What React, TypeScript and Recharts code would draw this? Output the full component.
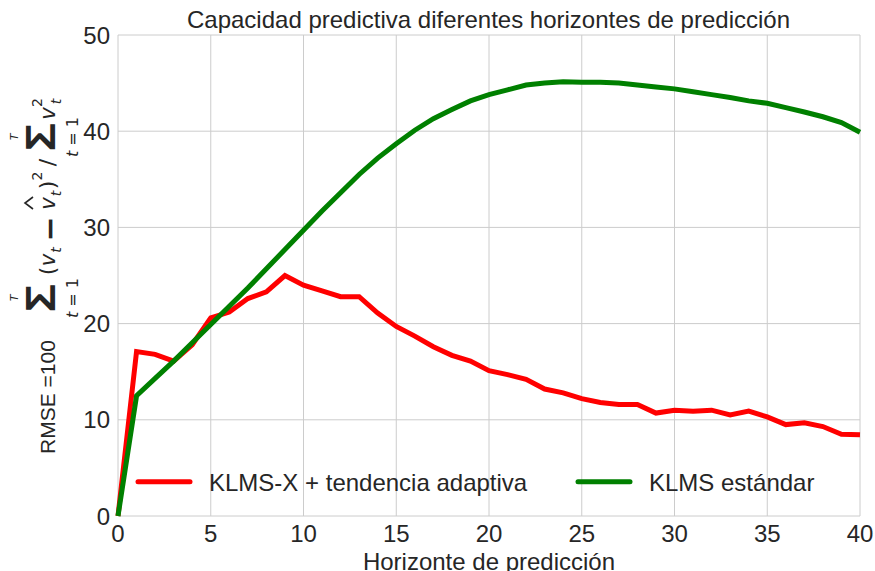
import { LineChart, Line, XAxis, YAxis, CartesianGrid, Legend } from 'recharts'

const SANS = '"Liberation Sans", Arial, sans-serif'
const MATH = '"DejaVu Sans", sans-serif'
const INK = '#262626'

const horizon = [0, 1, 2, 3, 4, 5, 6, 7, 8, 9, 10, 11, 12, 13, 14, 15, 16, 17, 18, 19, 20,
  21, 22, 23, 24, 25, 26, 27, 28, 29, 30, 31, 32, 33, 34, 35, 36, 37, 38, 39, 40]

// KLMS-X + adaptive trend
const klmsX = [0, 17.1, 16.8, 16.1, 17.8, 20.6, 21.2, 22.6, 23.3, 25.0,
  24.0, 23.4, 22.8, 22.8, 21.1, 19.7, 18.7, 17.6, 16.7, 16.1,
  15.1, 14.7, 14.2, 13.2, 12.8, 12.2, 11.8, 11.6, 11.6, 10.7,
  11.0, 10.9, 11.0, 10.5, 10.9, 10.3, 9.5, 9.7, 9.3, 8.5, 8.45]

// plain KLMS
const klmsStd = [0, 12.5, 14.3, 16.1, 18.0, 19.9, 21.8, 23.7, 25.7, 27.7,
  29.7, 31.7, 33.6, 35.5, 37.2, 38.7, 40.1, 41.3, 42.25, 43.15,
  43.8, 44.3, 44.8, 45.0, 45.15, 45.1, 45.1, 45.0, 44.8, 44.6,
  44.4, 44.1, 43.8, 43.5, 43.15, 42.9, 42.45, 42.0, 41.5, 40.9, 39.9]

const xTicks = [0, 5, 10, 15, 20, 25, 30, 35, 40]
const yTicks = [0, 10, 20, 30, 40, 50]

const seriesNames = ['KLMS-X + tendencia adaptiva', 'KLMS estándar']

const data = horizon.map((h, i) => ({ h, klmsX: klmsX[i], klmsStd: klmsStd[i] }))

// big sigma with stacked limits, drawn in the rotated label frame
function Sum({ cx }: { cx: number }) {
  return (
    <g>
      <text x={cx} y={0} fontSize={43} fontFamily={SANS} fontWeight="bold" textAnchor="middle"
        transform={`translate(${cx},0) scale(1.1,1) translate(${-cx},0)`}>Σ</text>
      <text x={cx} y={-37} fontSize={11} fontFamily={MATH} fontStyle="italic" textAnchor="middle">T</text>
      <text x={cx} y={23} fontSize={16} fontFamily={MATH} textAnchor="middle">
        <tspan fontStyle="italic">t</tspan> = 1
      </text>
    </g>
  )
}

// (v_t − v̂_t)² / ... v_t²
const glyphs = [
  { t: '(', x: -271, y: 0, s: 22 },
  { t: 'v', x: -260, y: 0, s: 21, i: true },
  { t: 't', x: -250, y: 6, s: 14, i: true },
  { t: '−', x: -229, y: 5, s: 30, b: true },
  { t: 'v', x: -203.5, y: 0, s: 21, i: true },
  { t: 't', x: -193.5, y: 6, s: 14, i: true },
  { t: ')', x: -185, y: 0, s: 22 },
  { t: '2', x: -176, y: -13, s: 14 },
  { t: '/', x: -162.5, y: 0, s: 22 },
  { t: 'v', x: -113.5, y: 0, s: 21, i: true },
  { t: '2', x: -102.5, y: -13, s: 14 },
  { t: 't', x: -101.5, y: 6, s: 14, i: true },
]

function YLabel() {
  return (
    <g transform="translate(55,0) rotate(-90)" fill={INK}>
      <text x={-454} y={0} fontSize={21} fontFamily={SANS}>RMSE =100</text>
      <Sum cx={-298} />
      <Sum cx={-137} />
      {glyphs.map((g, k) => (
        <text key={k} x={g.x} y={g.y} fontSize={g.s} fontFamily={MATH}
          fontStyle={g.i ? 'italic' : 'normal'} fontWeight={g.b ? 'bold' : 'normal'}
          textAnchor="middle">{g.t}</text>
      ))}
      {/* hat over the estimate */}
      <path d="M-209,-22 L-203,-30 L-197,-22" fill="none" stroke={INK} strokeWidth={1.6} />
    </g>
  )
}

function XLabel() {
  return (
    <text x={489} y={570} fontSize={24} fontFamily={SANS} fill={INK} textAnchor="middle">
      Horizonte de predicción
    </text>
  )
}

function LegendBox() {
  const items = [
    { name: seriesNames[0], color: '#ff0000', x: 138 },
    { name: seriesNames[1], color: '#008000', x: 578 },
  ]
  return (
    <svg width={875} height={50}>
      {items.map(it => (
        <g key={it.name}>
          <line x1={it.x} x2={it.x + 52} y1={26.7} y2={26.7} stroke={it.color} strokeWidth={5} strokeLinecap="round" />
          <text x={it.x + 71} y={35.5} fontSize={24} fontFamily={SANS} fill={INK}>{it.name}</text>
        </g>
      ))}
    </svg>
  )
}

export default function App() {
  return (
    <div style={{ position: 'fixed', left: 0, top: 0, width: 875, height: 571, background: '#fff' }}>
      <LineChart width={875} height={571} data={data} margin={{ top: 35, right: 15, bottom: 5, left: 58 }}>
        <CartesianGrid stroke="#cccccc" strokeWidth={1} />
        <XAxis dataKey="h" type="number" domain={[0, 40]} ticks={xTicks} height={50}
          axisLine={false} tickLine={false} tickSize={6} tickMargin={3}
          tick={{ fontSize: 24, fill: INK, fontFamily: SANS }}
          label={{ content: () => <XLabel /> }} />
        <YAxis type="number" domain={[0, 50]} ticks={yTicks} width={60}
          axisLine={false} tickLine={false} tickSize={6} tickMargin={2}
          tick={{ fontSize: 24, fill: INK, fontFamily: SANS }}
          label={{ content: () => <YLabel /> }} />
        <Legend layout="horizontal" verticalAlign="middle" align="center"
          wrapperStyle={{ left: 0, top: 455, width: 875, height: 50 }}
          content={() => <LegendBox />} />
        <Line type="linear" dataKey="klmsX" name={seriesNames[0]} stroke="#ff0000" strokeWidth={5}
          dot={false} isAnimationActive={false} />
        <Line type="linear" dataKey="klmsStd" name={seriesNames[1]} stroke="#008000" strokeWidth={5}
          dot={false} isAnimationActive={false} />
      </LineChart>
      <svg width={875} height={40} style={{ position: 'absolute', left: 0, top: 0, pointerEvents: 'none' }}>
        <text x={488.5} y={28} fontSize={24} fontFamily={SANS} fill={INK} textAnchor="middle">
          Capacidad predictiva diferentes horizontes de predicción
        </text>
      </svg>
    </div>
  )
}
